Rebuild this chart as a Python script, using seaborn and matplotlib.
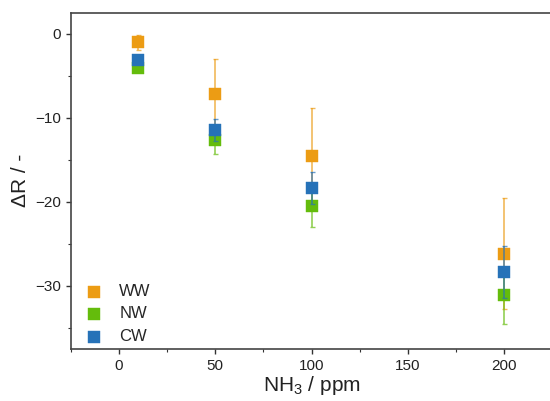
import numpy as np
import pandas as pd
import matplotlib
matplotlib.use("Agg")
import matplotlib.pyplot as plt
import seaborn as sns
from matplotlib.ticker import MultipleLocator

# ── Data ────────────────────────────────────────────────────
nh3_ppm = [10, 50, 100, 200]
series = ['WW', 'NW', 'CW']
ww_mean = [-1.0, -7.2, -14.6, -26.2]
ww_err  = [0.9, 4.2, 5.8, 6.6]
nw_mean = [-4.1, -12.6, -20.5, -31.1]
nw_err  = [0.3, 1.7, 2.5, 3.4]
cw_mean = [-3.1, -11.4, -18.4, -28.4]
cw_err  = [0.4, 1.3, 1.9, 3.1]
colors = {'WW': '#EC9C14', 'NW': '#64BC0C', 'CW': '#2672B8'}

df = pd.DataFrame({
    'nh3': nh3_ppm * 3,
    'dR': ww_mean + nw_mean + cw_mean,
    'err': ww_err + nw_err + cw_err,
    'sample': [s for s in series for _ in nh3_ppm],
})

# ── Style ───────────────────────────────────────────────────
sns.set_style("white")
plt.rcParams['font.family'] = ['Liberation Sans', 'DejaVu Sans']
plt.rcParams['mathtext.fontset'] = 'custom'
plt.rcParams['mathtext.rm'] = 'Liberation Sans'

fig = plt.figure(figsize=(5.5, 4.01), dpi=100)
# right edge of the axes sits just past the figure edge (as in the reference)
ax = fig.add_axes([0.129, 0.13, 0.875, 0.838])

for i, name in enumerate(series):
    sub = df[df['sample'] == name]
    ax.errorbar(sub['nh3'], sub['dR'], yerr=sub['err'], fmt='none',
                ecolor=colors[name], alpha=0.7, elinewidth=1.2,
                capsize=1.8, capthick=1.0, zorder=2 + 2 * i)
    sns.scatterplot(data=sub, x='nh3', y='dR', marker='s', s=80,
                    color=colors[name], edgecolor=colors[name], linewidth=0.3,
                    label=name, ax=ax, zorder=3 + 2 * i)

ax.set_xlim(-25, 225)
ax.set_ylim(-37.5, 2.5)
ax.xaxis.set_major_locator(MultipleLocator(50))
ax.xaxis.set_minor_locator(MultipleLocator(25))
ax.yaxis.set_major_locator(MultipleLocator(10))
ax.yaxis.set_minor_locator(MultipleLocator(5))
ax.tick_params(which='both', direction='out', bottom=True, left=True,
               top=False, right=False, colors='#333333', labelcolor='#222222')
ax.tick_params(which='major', length=3.5, width=1.0, labelsize=11)
ax.tick_params(which='minor', length=2.0, width=0.8)
for sp in ax.spines.values():
    sp.set_color('#444444')
    sp.set_linewidth(1.2)

ax.set_xlabel('NH$_3$ / ppm', fontsize=15, color='#222222', labelpad=1)
ax.set_ylabel('ΔR / -', fontsize=15, color='#222222', labelpad=4)

leg = ax.legend(loc='lower left', frameon=False, fontsize=12,
                handletextpad=0.95, handlelength=1.2, labelspacing=0.45,
                bbox_to_anchor=(-0.005, -0.03), borderaxespad=0.5)
for h in leg.legend_handles:
    h.set_alpha(1.0)

plt.savefig('out.png', dpi=100)
